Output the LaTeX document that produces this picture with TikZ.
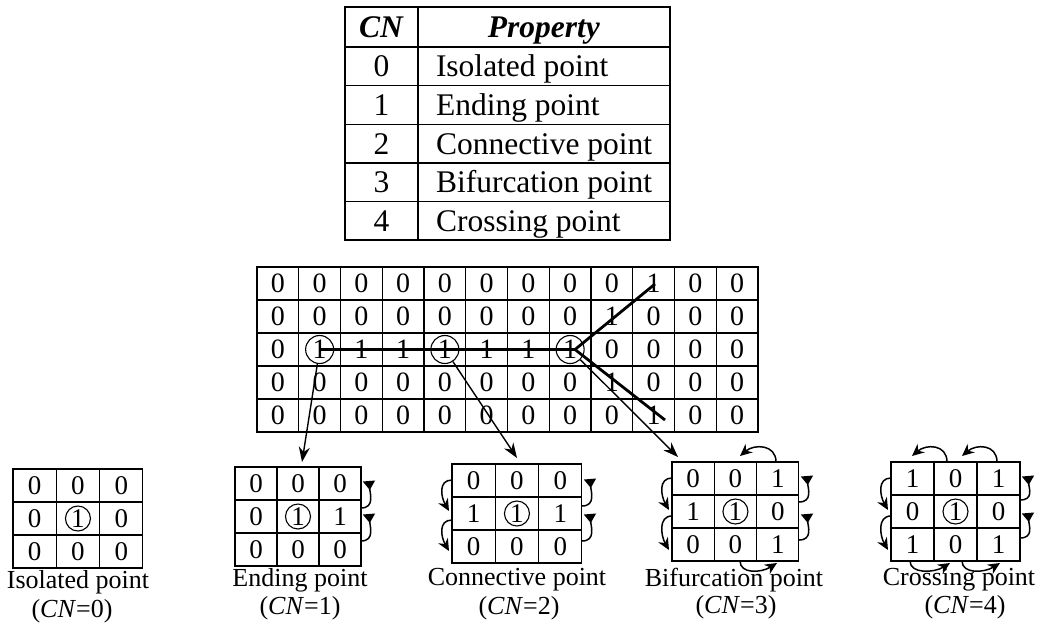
\documentclass[tikz,border=0pt]{standalone}
\usepackage{fontspec}
\setmainfont{Liberation Serif}
\usetikzlibrary{arrows.meta}
\tikzset{
  tcell/.style={draw, line width=1.4pt, inner sep=0pt, minimum height=38.6pt, text height=26pt, text depth=5pt, font=\fontsize{31.5}{32}\selectfont},
  bcell/.style={draw, line width=1.1pt, inner sep=0pt, minimum width=41.75pt, minimum height=33pt, font=\fontsize{28}{28}\selectfont},
  scell/.style={draw, line width=1.1pt, inner sep=0pt, minimum height=33pt, font=\fontsize{27}{27}\selectfont},
  bcirc/.style={circle, draw, line width=1.1pt, minimum size=28pt, inner sep=0pt},
  scirc/.style={circle, draw, line width=1.1pt, minimum size=25pt, inner sep=0pt},
  skel/.style={line width=2.8pt},
  bigarr/.style={line width=1.4pt, -{Stealth[length=15pt,width=11pt]}},
  carr/.style={line width=1.5pt, -{Stealth[length=12pt,width=11pt]}},
  rarr/.style={line width=1.5pt, -{Triangle[reversed,length=9pt,width=12pt]}},
  lab/.style={inner sep=0pt, font=\fontsize{26}{26}\selectfont},
}
\newcommand{\smallgrid}[5]{%
  \foreach \v [count=\i from 0] in {#5} {
    \pgfmathtruncatemacro\gr{\i/3}
    \pgfmathtruncatemacro\gc{mod(\i,3)}
    \node[scell, minimum width=#4pt] (#1-\gr-\gc) at ({#2+(\gc+0.5)*#4},{#3+(\gr+0.5)*33}) {\v};
  }
  \node[scirc] (#1-c) at (#1-1-1) {};
}
\newcommand{\rcurve}[3]{\draw[rarr] (#1,#2) .. controls ({#1+14},{#2}) and ({#1+9},{#3+12}) .. ({#1+8},{#3});}
\newcommand{\lcurve}[3]{\draw[carr] (#1,#2) .. controls ({#1-14},{#2}) and ({#1-11},{#3-14}) .. ({#1-3},{#3});}
\newcommand{\tcurve}[3]{\draw[carr] (#2,#1) .. controls ({#2},{#1-18}) and ({#3+14},{#1-18}) .. ({#3},{#1-6});}
\newcommand{\bcurve}[3]{\draw[carr] (#2,#1) .. controls ({#2},{#1+13}) and ({#3-16},{#1+12}) .. ({#3},{#1+2});}

\begin{document}
\begin{tikzpicture}[x=1pt,y=-1pt]
\fill[white] (0,0) rectangle (1052,625);
\useasboundingbox (0,0) rectangle (1052,625);

% table
\node[tcell, minimum width=73pt, minimum height=40pt] (th1) at (381.5,27) {\textbf{\textit{CN}}};
\node[tcell, minimum width=252pt, minimum height=40pt] (th2) at (544,27) {\textbf{\textit{Property}}};
\foreach \n/\t [count=\k from 0] in {0/Isolated point,1/Ending point,2/Connective point,3/Bifurcation point,4/Crossing point} {
  \node[tcell, minimum width=73pt] (tn\k) at (381.5,{47+(\k+0.5)*38.6}) {\n};
  \node[tcell, minimum width=252pt] (tp\k) at (544,{47+(\k+0.5)*38.6}) {\makebox[216pt][l]{\t}};
}

% big grid
\foreach \rowvals [count=\r from 0] in {{0,0,0,0,0,0,0,0,0,1,0,0},{0,0,0,0,0,0,0,0,1,0,0,0},{0,1,1,1,1,1,1,1,0,0,0,0},{0,0,0,0,0,0,0,0,1,0,0,0},{0,0,0,0,0,0,0,0,0,1,0,0}} {
  \foreach \v [count=\c from 0] in \rowvals {
    \node[bcell] (b-\r-\c) at ({257+(\c+0.5)*41.75},{267+(\r+0.5)*33}) {\v};
  }
}
\node[bcirc] (bc1) at (b-2-1) {};
\node[bcirc] (bc4) at (b-2-4) {};
\node[bcirc] (bc7) at (b-2-7) {};
\coordinate (jn) at (575,349.5);
\coordinate (eu) at (655,284);
\coordinate (ed) at (665,420);
\draw[skel] (b-2-1.center) -- (jn) -- (eu);
\draw[skel] (jn) -- (ed);

% small grids
\smallgrid{iso}{13}{469}{43.3}{0,0,0,0,1,0,0,0,0}
\smallgrid{end}{235}{467}{42}{0,0,0,0,1,1,0,0,0}
\smallgrid{con}{452}{464}{43.3}{0,0,0,1,1,1,0,0,0}
\smallgrid{bif}{672}{462}{42.3}{0,0,1,1,1,0,0,0,1}
\smallgrid{cro}{891}{462}{43}{1,0,1,0,1,0,1,0,1}

% arrows from circles
\coordinate (t1) at (302,462);
\coordinate (t2) at (517,458);
\coordinate (t3) at (678,457);
\draw[bigarr] (bc1) -- (t1);
\draw[bigarr] (bc4) -- (t2);
\draw[bigarr] (bc7) -- (t3);

% traversal arrows
\rcurve{361}{508}{481}
\rcurve{361}{541}{514}
\rcurve{582}{506}{479}
\rcurve{582}{541}{514}
\lcurve{452}{480}{511}
\lcurve{452}{520}{551}
\rcurve{799}{502}{476}
\rcurve{799}{540}{514}
\lcurve{672}{478}{510}
\lcurve{672}{516}{550}
\tcurve{462}{776}{740}
\bcurve{561}{740}{777}
\rcurve{1020}{500}{476}
\rcurve{1020}{538}{513}
\lcurve{891}{478}{510}
\lcurve{891}{516}{550}
\tcurve{462}{947}{912}
\tcurve{462}{997}{962}
\bcurve{561}{910}{950}
\bcurve{561}{962}{1000}

% labels
\node[lab] (l-iso) at (78,582) {Isolated point};
\node[lab] (c-iso) at (72,611) {(\textit{CN}=0)};
\node[lab] (l-end) at (300,580) {Ending point};
\node[lab] (c-end) at (300,608) {(\textit{CN}=1)};
\node[lab] (l-con) at (517,580) {Connective point};
\node[lab] (c-con) at (519,608) {(\textit{CN}=2)};
\node[lab] (l-bif) at (734,580) {Bifurcation point};
\node[lab] (c-bif) at (736,607) {(\textit{CN}=3)};
\node[lab] (l-cro) at (959,580) {Crossing point};
\node[lab] (c-cro) at (965,607) {(\textit{CN}=4)};
\end{tikzpicture}
\end{document}
